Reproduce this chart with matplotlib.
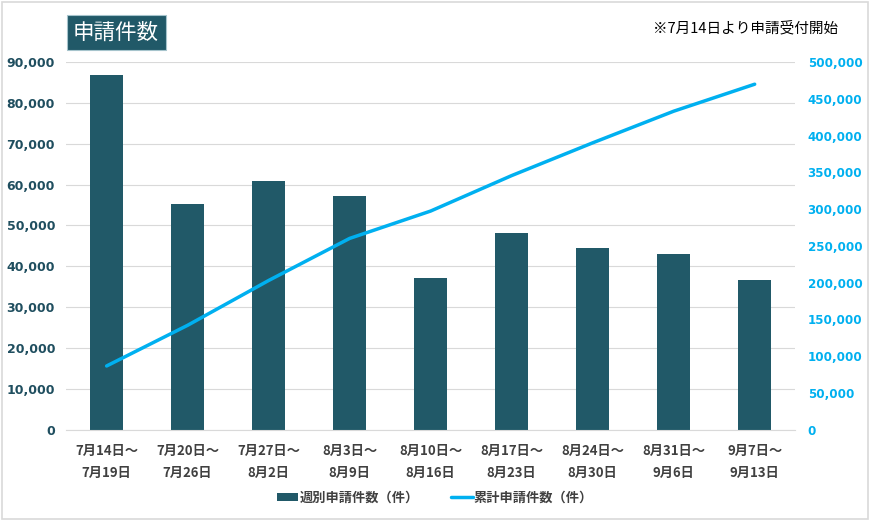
import matplotlib.pyplot as plt
import matplotlib.ticker as mticker
import numpy as np

plt.rcParams['font.family'] = ['Noto Sans CJK JP', 'DejaVu Sans']

weeks = ['7月14日～\n7月19日', '7月20日～\n7月26日', '7月27日～\n8月2日', '8月3日～\n8月9日',
         '8月10日～\n8月16日', '8月17日～\n8月23日', '8月24日～\n8月30日', '8月31日～\n9月6日',
         '9月7日～\n9月13日']
weekly = [86800, 55300, 60900, 57200, 37200, 48200, 44500, 43000, 36700]
cumulative = [86800, 142100, 203000, 260200, 297400, 345600, 390100, 433100, 469800]

bar_color = '#215968'
line_color = '#00B0F0'

fig = plt.figure(figsize=(8.7, 5.21), dpi=100)
ax = fig.add_axes([0.076, 0.175, 0.838, 0.706])
x = np.arange(len(weeks))

ax.bar(x, weekly, width=0.4, color=bar_color, label='週別申請件数（件）', zorder=2)
ax.set_xlim(-0.5, len(weeks) - 0.5)
ax.set_ylim(0, 90000)
ax.yaxis.set_major_locator(mticker.MultipleLocator(10000))
ax.yaxis.set_major_formatter(mticker.FuncFormatter(lambda v, p: f'{int(v):,}'))
ax.grid(axis='y', color='#D9D9D9', lw=0.8, zorder=0)
ax.set_xticks(x)
ax.set_xticklabels(weeks, fontsize=9.5, fontweight='bold', color='#404040', linespacing=1.75)
for lab in ax.get_yticklabels():
    lab.set_family('DejaVu Sans')
    lab.set_fontweight('bold')
    lab.set_fontsize(9)
    lab.set_color('#1F4E5F')
ax.tick_params(axis='y', length=0, pad=8)
ax.tick_params(axis='x', length=0, pad=10)
for s in ['top', 'left', 'right']:
    ax.spines[s].set_visible(False)
ax.spines['bottom'].set_color('#D9D9D9')

ax2 = ax.twinx()
ax2.plot(x, cumulative, color=line_color, lw=2.5, label='累計申請件数（件）', solid_capstyle='round')
ax2.set_ylim(0, 500000)
ax2.yaxis.set_major_locator(mticker.MultipleLocator(50000))
ax2.yaxis.set_major_formatter(mticker.FuncFormatter(lambda v, p: f'{int(v):,}'))
for lab in ax2.get_yticklabels():
    lab.set_family('DejaVu Sans')
    lab.set_fontweight('bold')
    lab.set_fontsize(8.6)
    lab.set_color(line_color)
ax2.tick_params(length=0, pad=9)
for s in ax2.spines.values():
    s.set_visible(False)

h1, l1 = ax.get_legend_handles_labels()
h2, l2 = ax2.get_legend_handles_labels()
leg = fig.legend(h1 + h2, l1 + l2, loc='center', bbox_to_anchor=(0.5, 0.045), ncol=2,
                 frameon=False, fontsize=9.5, handlelength=1.6, handleheight=0.6,
                 columnspacing=2.5, handletextpad=0.1)
for t in leg.get_texts():
    t.set_fontweight('bold')
    t.set_color('#404040')

fig.text(0.084, 0.937, '申請件数', fontsize=15.5, color='white', va='center', ha='left',
         bbox=dict(boxstyle='square,pad=0.3', fc=bar_color, ec='#A6C4CC', lw=0.8))
fig.text(0.963, 0.945, '※7月14日より申請受付開始', fontsize=10.5, color='black', va='center', ha='right')

fig.patches.append(plt.Rectangle((0.002, 0.004), 0.996, 0.992, transform=fig.transFigure,
                                 fill=False, ec='#D9D9D9', lw=1.2))

fig.savefig('out.png', dpi=100)
